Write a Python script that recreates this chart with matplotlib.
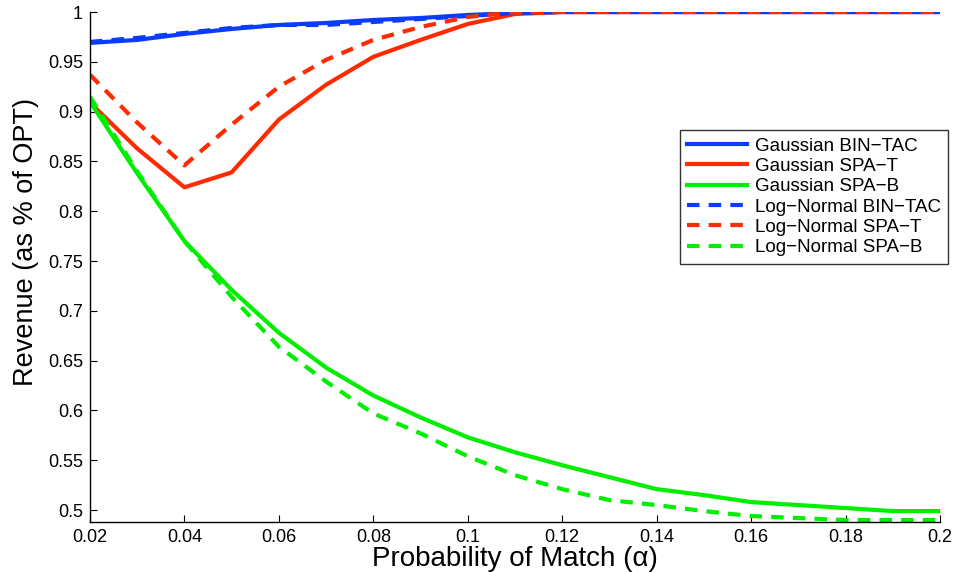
import matplotlib
matplotlib.use("Agg")
import matplotlib.pyplot as plt
import numpy as np

alpha = [0.02, 0.03, 0.04, 0.05, 0.06, 0.07, 0.08, 0.09, 0.10, 0.11,
         0.12, 0.13, 0.14, 0.15, 0.16, 0.17, 0.18, 0.19, 0.20]

gauss_bintac = [0.969, 0.972, 0.978, 0.983, 0.987, 0.989, 0.992, 0.994, 0.997, 0.999,
                1.0, 1.0, 1.0, 1.0, 1.0, 1.0, 1.0, 1.0, 1.0]
gauss_spat = [0.909, 0.863, 0.824, 0.839, 0.892, 0.927, 0.955, 0.972, 0.988, 0.998,
              1.0, 1.0, 1.0, 1.0, 1.0, 1.0, 1.0, 1.0, 1.0]
gauss_spab = [0.910, 0.838, 0.770, 0.721, 0.678, 0.643, 0.615, 0.593, 0.573, 0.558,
              0.545, 0.533, 0.521, 0.515, 0.508, 0.505, 0.502, 0.499, 0.499]
logn_bintac = [0.970, 0.974, 0.979, 0.984, 0.987, 0.987, 0.990, 0.993, 0.996, 0.999,
               1.0, 1.0, 1.0, 1.0, 1.0, 1.0, 1.0, 1.0, 1.0]
logn_spat = [0.937, 0.889, 0.846, 0.887, 0.925, 0.952, 0.972, 0.985, 0.995, 1.0,
             1.0, 1.0, 1.0, 1.0, 1.0, 1.0, 1.0, 1.0, 1.0]
logn_spab = [0.915, 0.840, 0.770, 0.714, 0.664, 0.629, 0.597, 0.577, 0.554, 0.535,
             0.521, 0.510, 0.505, 0.499, 0.494, 0.492, 0.490, 0.490, 0.490]

BLUE = "#0a3cff"
RED = "#ff2a00"
GREEN = "#00ee00"

plt.rcParams["font.family"] = ["Liberation Sans", "DejaVu Sans"]

fig = plt.figure(figsize=(9.56, 5.72), dpi=100)
ax = fig.add_axes([0.0941, 0.0874, 0.8892, 0.8916])

lw = 3.0
dash = (0, (3, 2.2))
ax.plot(alpha, gauss_bintac, color=BLUE, lw=lw, label="Gaussian BIN\u2212TAC")
ax.plot(alpha, gauss_spat, color=RED, lw=lw, label="Gaussian SPA\u2212T")
ax.plot(alpha, gauss_spab, color=GREEN, lw=lw, label="Gaussian SPA\u2212B")
ax.plot(alpha, logn_bintac, color=BLUE, lw=lw, ls=dash, label="Log\u2212Normal BIN\u2212TAC")
ax.plot(alpha, logn_spat, color=RED, lw=lw, ls=dash, label="Log\u2212Normal SPA\u2212T")
ax.plot(alpha, logn_spab, color=GREEN, lw=lw, ls=dash, label="Log\u2212Normal SPA\u2212B")

ax.set_xlim(0.02, 0.2)
ax.set_ylim(0.488, 1.0)
ax.set_xticks(np.arange(0.02, 0.201, 0.02))
ax.set_xticklabels(["0.02", "0.04", "0.06", "0.08", "0.1", "0.12", "0.14", "0.16", "0.18", "0.2"])
ax.set_yticks(np.arange(0.5, 1.001, 0.05))
ax.set_yticklabels(["0.5", "0.55", "0.6", "0.65", "0.7", "0.75", "0.8", "0.85", "0.9", "0.95", "1"])
ax.tick_params(direction="in", length=5, width=0.8, labelsize=13, pad=5)

for s in ["top", "right"]:
    ax.spines[s].set_visible(False)
for s in ["left", "bottom"]:
    ax.spines[s].set_linewidth(1.0)

ax.set_xlabel("Probability of Match (\u03b1)", fontsize=20, labelpad=0)
ax.set_ylabel("Revenue (as % of OPT)", fontsize=19.5)
ax.yaxis.set_label_coords(-0.06, 0.55)

leg = ax.legend(loc="upper right", bbox_to_anchor=(1.0094, 0.7686), fontsize=13.5,
                frameon=True, fancybox=False, handlelength=3.2, labelspacing=0.17,
                borderpad=0.4, handletextpad=0.4, borderaxespad=0)
leg.get_frame().set_edgecolor("black")
leg.get_frame().set_linewidth(1.0)

fig.savefig("out.png", dpi=100, facecolor="white")
